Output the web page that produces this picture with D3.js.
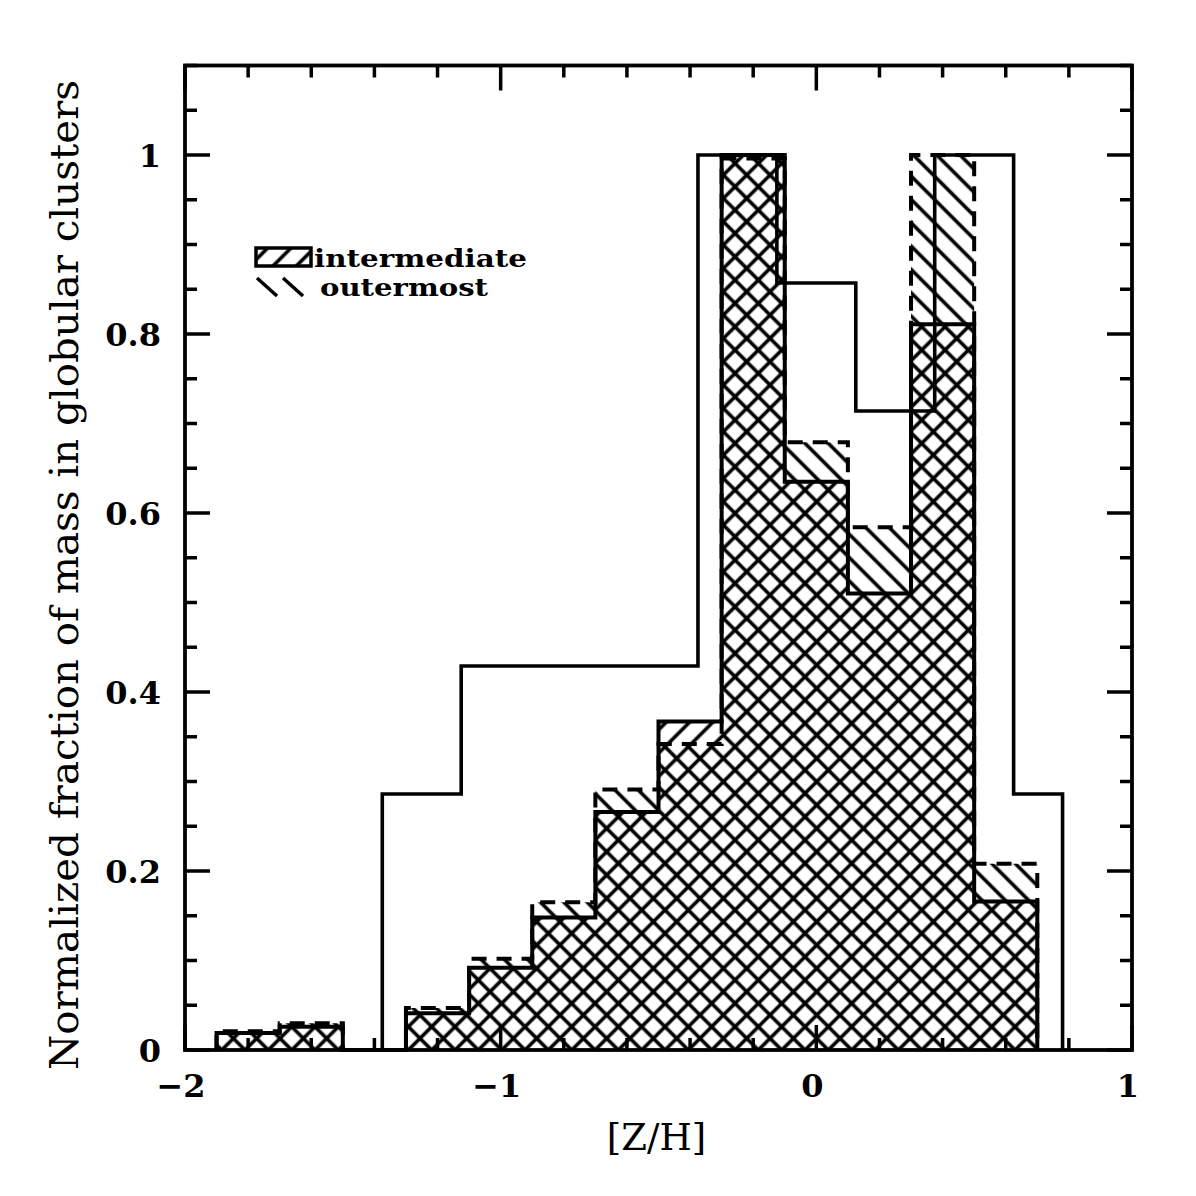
<!DOCTYPE html>
<html>
<head>
<meta charset="utf-8">
<script src="https://cdn.jsdelivr.net/npm/d3@7"></script>
<style>
  html, body { margin: 0; padding: 0; background: #ffffff; }
  svg { display: block; }
</style>
</head>
<body>
<div id="chart"></div>
<script>
// Bin edges of the two hatched histograms ([Z/H], width 0.2)
const binEdges = [-1.9, -1.7, -1.5, -1.3, -1.1, -0.9, -0.7, -0.5, -0.3, -0.1, 0.1, 0.3, 0.5, 0.7];
// Normalized fractions, one per bin
const intermediate = [0.019, 0.026, 0, 0.041, 0.092, 0.148, 0.266, 0.367, 1.0, 0.635, 0.510, 0.811, 0.166];
const outermost    = [0.021, 0.030, 0, 0.047, 0.102, 0.165, 0.291, 0.342, 0.996, 0.679, 0.584, 1.0, 0.208];

// Open (unhatched) histogram
const openEdges  = [-1.375, -1.125, -0.875, -0.625, -0.375, -0.125, 0.125, 0.375, 0.625, 0.78];
const openValues = [0.286, 0.429, 0.429, 0.429, 1.0, 0.857, 0.714, 1.0, 0.286];

// Axis ticks
const xMajorTicks = [-2, -1, 0, 1];
const xTickLabels = ['\u22122', '\u22121', '0', '1'];
const yMajorTicks = [0, 0.2, 0.4, 0.6, 0.8, 1];
const yTickLabels = ['0', '0.2', '0.4', '0.6', '0.8', '1'];

const legendLabels = ['intermediate', 'outermost'];

const W = 1196, H = 1196;
const margin = { left: 185, right: 64, top: 65.5, bottom: 146 };

const x = d3.scaleLinear().domain([-2, 1]).range([margin.left, W - margin.right]);
const y = d3.scaleLinear().domain([0, 1.1]).range([H - margin.bottom, margin.top]);

const svg = d3.select('#chart').append('svg')
    .attr('width', W)
    .attr('height', H)
    .attr('viewBox', `0 0 ${W} ${H}`);

// Hatch patterns
const defs = svg.append('defs');
const hatchGap = 16.5;
function addHatch(id, angle) {
    defs.append('pattern')
        .attr('id', id)
        .attr('patternUnits', 'userSpaceOnUse')
        .attr('width', hatchGap)
        .attr('height', hatchGap)
        .attr('patternTransform', `rotate(${angle})`)
        .append('line')
        .attr('x1', hatchGap / 2).attr('y1', -2)
        .attr('x2', hatchGap / 2).attr('y2', hatchGap + 2)
        .attr('stroke', '#000')
        .attr('stroke-width', 3.6);
}
addHatch('hatch-fwd', 45);   // "//"
addHatch('hatch-back', -45); // "\\"

// Turn bins into step points
function stepPoints(edges, values) {
    const pts = [[edges[0], 0]];
    values.forEach((v, i) => {
        pts.push([edges[i], v]);
        pts.push([edges[i + 1], v]);
    });
    pts.push([edges[edges.length - 1], 0]);
    return pts;
}

const area = d3.area()
    .x(d => x(d[0]))
    .y0(y(0))
    .y1(d => y(d[1]));
const line = d3.line()
    .x(d => x(d[0]))
    .y(d => y(d[1]));

const interPts = stepPoints(binEdges, intermediate);
const outerPts = stepPoints(binEdges, outermost);
const openPts = stepPoints(openEdges, openValues);

const hist = svg.append('g').attr('class', 'histograms');

hist.append('path')
    .attr('d', area(outerPts))
    .attr('fill', 'url(#hatch-back)');
hist.append('path')
    .attr('d', area(interPts))
    .attr('fill', 'url(#hatch-fwd)');

hist.append('path')
    .attr('d', line(outerPts))
    .attr('fill', 'none')
    .attr('stroke', '#000')
    .attr('stroke-width', 4)
    .attr('stroke-dasharray', '15,10');
hist.append('path')
    .attr('d', line(interPts))
    .attr('fill', 'none')
    .attr('stroke', '#000')
    .attr('stroke-width', 4);
hist.append('path')
    .attr('d', line(openPts))
    .attr('fill', 'none')
    .attr('stroke', '#000')
    .attr('stroke-width', 3.6);

// Frame and ticks
const axes = svg.append('g').attr('class', 'axes');
const x0 = x.range()[0], x1 = x.range()[1];
const y0 = y.range()[0], y1 = y.range()[1];

const xMinor = d3.range(-2, 1.0001, 0.2).map(v => +v.toFixed(2)).filter(v => !xMajorTicks.includes(v));
const yMinor = d3.range(0, 1.1001, 0.05).map(v => +v.toFixed(2)).filter(v => !yMajorTicks.includes(v));

function xTick(v, len) {
    axes.append('line').attr('x1', x(v)).attr('x2', x(v)).attr('y1', y0).attr('y2', y0 - len);
    axes.append('line').attr('x1', x(v)).attr('x2', x(v)).attr('y1', y1).attr('y2', y1 + len);
}
function yTick(v, len) {
    axes.append('line').attr('x1', x0).attr('x2', x0 + len).attr('y1', y(v)).attr('y2', y(v));
    axes.append('line').attr('x1', x1).attr('x2', x1 - len).attr('y1', y(v)).attr('y2', y(v));
}
xMajorTicks.forEach(v => xTick(v, 25));
xMinor.forEach(v => xTick(v, 12));
yMajorTicks.forEach(v => yTick(v, 25));
yMinor.forEach(v => yTick(v, 12));

axes.selectAll('line').attr('stroke', '#000').attr('stroke-width', 3.5);

axes.append('rect')
    .attr('x', x0).attr('y', y1)
    .attr('width', x1 - x0).attr('height', y0 - y1)
    .attr('fill', 'none')
    .attr('stroke', '#000')
    .attr('stroke-width', 3.8);

// Tick labels
const labelFont = 'DejaVu Serif';
axes.selectAll('text.xlab')
    .data(xMajorTicks)
    .enter().append('text')
    .attr('class', 'xlab')
    .attr('x', d => x(d) - 4)
    .attr('y', y0 + 47)
    .attr('text-anchor', 'middle')
    .attr('font-family', labelFont)
    .attr('font-weight', 'bold')
    .attr('font-size', 32)
    .text((d, i) => xTickLabels[i]);

axes.selectAll('text.ylab')
    .data(yMajorTicks)
    .enter().append('text')
    .attr('class', 'ylab')
    .attr('x', x0 - 24)
    .attr('y', d => y(d) + 12)
    .attr('text-anchor', 'end')
    .attr('font-family', labelFont)
    .attr('font-weight', 'bold')
    .attr('font-size', 32)
    .text((d, i) => yTickLabels[i]);

// Axis titles
svg.append('text')
    .attr('x', (x0 + x1) / 2 - 2)
    .attr('y', 1150)
    .attr('text-anchor', 'middle')
    .attr('font-family', labelFont)
    .attr('font-size', 37)
    .text('[Z/H]');

svg.append('text')
    .attr('transform', `translate(78, 575) rotate(-90)`)
    .attr('text-anchor', 'middle')
    .attr('font-family', labelFont)
    .attr('font-size', 40)
    .attr('textLength', 990)
    .attr('lengthAdjust', 'spacingAndGlyphs')
    .text('Normalized fraction of mass in globular clusters');

// Legend
const legend = svg.append('g').attr('class', 'legend').attr('transform', 'translate(256, 248)');
legend.append('rect')
    .attr('width', 55).attr('height', 18)
    .attr('fill', 'url(#hatch-fwd)')
    .attr('stroke', '#000')
    .attr('stroke-width', 3.5);
legend.selectAll('line.back')
    .data([0, 26])
    .enter().append('line')
    .attr('x1', d => d + 1).attr('y1', 30)
    .attr('x2', d => d + 21).attr('y2', 48)
    .attr('stroke', '#000')
    .attr('stroke-width', 3.5);
legend.selectAll('text')
    .data(legendLabels)
    .enter().append('text')
    .attr('x', (d, i) => i === 0 ? 58 : 64)
    .attr('y', (d, i) => i === 0 ? 19 : 48)
    .attr('font-family', labelFont)
    .attr('font-weight', 'bold')
    .attr('font-size', 25)
    .attr('textLength', (d, i) => i === 0 ? 213 : 168)
    .attr('lengthAdjust', 'spacingAndGlyphs')
    .text(d => d);
</script>
</body>
</html>
